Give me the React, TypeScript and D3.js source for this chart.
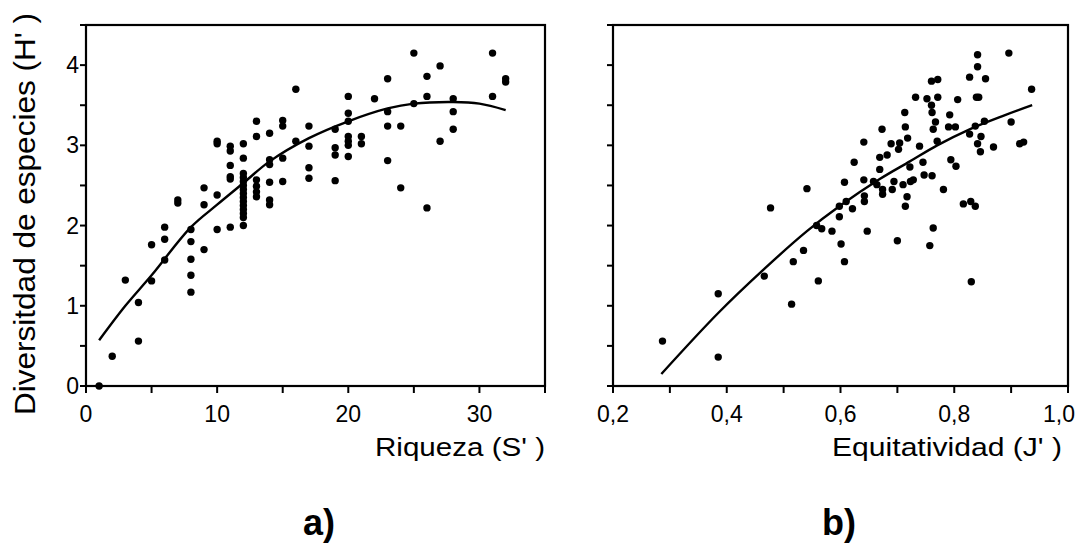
import React from "react";
import * as d3 from "d3";

// ---- Panel a: Riqueza (S') vs Diversidad (H') ----
const aRichness = [1,2,3,4,4,5,5,6,6,6,7,7,8,8,8,8,8,9,9,9,10,10,10,10,11,11,11,11,11,11,12,12,12,12,12,12,12,12,12,12,12,12,12,12,12,13,13,13,13,13,13,14,14,14,14,14,14,15,15,15,15,16,16,17,17,17,17,19,19,19,19,20,20,20,20,20,20,20,21,21,22,23,23,23,23,24,24,25,25,26,26,26,27,27,28,28,28,31,31,32,32];
const aDiversity = [0,0.37,1.32,1.04,0.56,1.76,1.31,1.98,1.83,1.57,2.28,2.32,1.95,1.8,1.58,1.38,1.17,2.47,2.26,1.7,3.05,3.02,2.38,1.95,2.99,2.93,2.75,2.61,2.58,1.98,3.02,2.84,2.65,2.6,2.55,2.5,2.45,2.4,2.35,2.3,2.25,2.2,2.15,2.1,2.0,3.3,3.11,2.57,2.49,2.42,2.36,3.15,2.82,2.76,2.54,2.32,2.26,3.31,3.24,2.84,2.55,3.7,3.05,3.24,2.99,2.72,2.59,3.2,2.97,2.88,2.56,3.61,3.4,3.3,3.11,3.05,3.0,2.86,3.11,3.02,3.58,3.83,3.42,3.24,2.81,3.24,2.47,4.15,3.52,3.86,3.61,2.22,3.99,3.05,3.58,3.42,3.2,4.15,3.61,3.83,3.79];
const aCurveX = [1,3,5,8,10,12,14,17,20,23,25,28,30,32];
const aCurveY = [0.57,1.0,1.38,1.98,2.26,2.53,2.8,3.09,3.3,3.46,3.52,3.54,3.52,3.44];

// ---- Panel b: Equitatividad (J') vs Diversidad (H') ----
const bEvenness = [0.287,0.385,0.385,0.466,0.477,0.514,0.517,0.535,0.541,0.561,0.558,0.567,0.585,0.598,0.598,0.601,0.607,0.607,0.61,0.621,0.624,0.641,0.641,0.642,0.642,0.647,0.658,0.664,0.669,0.669,0.673,0.674,0.674,0.682,0.689,0.691,0.694,0.7,0.702,0.704,0.71,0.713,0.714,0.714,0.717,0.718,0.722,0.723,0.728,0.732,0.739,0.745,0.747,0.752,0.757,0.76,0.761,0.761,0.76,0.763,0.763,0.767,0.771,0.771,0.77,0.781,0.792,0.794,0.79,0.802,0.803,0.806,0.816,0.827,0.827,0.829,0.83,0.837,0.837,0.841,0.841,0.839,0.843,0.841,0.847,0.846,0.853,0.855,0.869,0.896,0.9,0.915,0.922,0.936];
const bDiversity = [0.56,1.15,0.36,1.37,2.22,1.02,1.55,1.69,2.46,1.31,2.0,1.96,1.93,2.24,2.11,1.77,1.55,2.54,2.3,2.21,2.79,3.04,2.57,2.37,2.3,1.93,2.55,2.51,2.85,2.7,3.2,2.45,2.39,2.88,3.02,2.45,2.55,1.81,2.95,3.03,2.51,3.41,2.24,3.23,2.36,3.09,2.73,2.55,2.57,3.6,2.99,2.79,2.63,3.58,1.75,3.5,2.62,3.41,3.8,1.97,3.2,3.29,3.82,3.6,3.05,2.45,3.38,2.82,3.23,3.23,2.74,3.57,2.27,3.85,3.14,2.3,1.3,3.24,2.24,4.13,3.98,3.6,3.6,3.02,3.11,2.92,3.3,3.83,2.98,4.15,3.29,3.02,3.04,3.7];
const bCurveX = [0.285,0.385,0.466,0.541,0.598,0.669,0.722,0.77,0.827,0.887,0.937];
const bCurveY = [0.15,0.91,1.46,1.93,2.24,2.58,2.8,3.0,3.2,3.37,3.5];

// ---- Tick labels ----
const aXTicks = [0, 10, 20, 30];
const aXMinor = [0, 5, 10, 15, 20, 25, 30, 35];
const bXTicks = [0.2, 0.4, 0.6, 0.8, 1.0];
const bXMinor = [0.2, 0.3, 0.4, 0.5, 0.6, 0.7, 0.8, 0.9, 1.0];
const yTicks = [0, 1, 2, 3, 4];
const yMinor = [0, 0.5, 1, 1.5, 2, 2.5, 3, 3.5, 4, 4.5];

const FONT = "'Liberation Sans', Arial, Helvetica, sans-serif";

const yScale = d3.scaleLinear().domain([0, 4.5]).range([386, 25]);

function Panel({
  xs, ys, cx, cy, xScale, majors, minors, fmt, showYLabels, lastEnd,
}: any) {
  const [x0, x1] = xScale.range();
  const [y0, y1] = yScale.range();
  const line = d3
    .line<number>()
    .x((_, i) => xScale(cx[i]))
    .y((_, i) => yScale(cy[i]))
    .curve(d3.curveCatmullRom.alpha(0.5));
  return (
    <g>
      <rect x={x0} y={y1} width={x1 - x0} height={y0 - y1} fill="none" stroke="#000" strokeWidth={2.2} />
      {minors.map((t: number) => (
        <line key={"xm" + t} x1={xScale(t)} x2={xScale(t)} y1={y0} y2={y0 + 7} stroke="#000" strokeWidth={2} />
      ))}
      {yMinor.map((t) => (
        <line key={"ym" + t} x1={x0 - 6} x2={x0} y1={yScale(t)} y2={yScale(t)} stroke="#000" strokeWidth={2} />
      ))}
      {majors.map((t: number, i: number) => {
        const isLast = lastEnd && i === majors.length - 1;
        return (
          <text
            key={"xl" + t}
            x={isLast ? 1075 : xScale(t)}
            y={422}
            textAnchor={isLast ? "end" : "middle"}
            fontFamily={FONT}
            fontSize={23}
            fill="#000"
          >
            {fmt(t)}
          </text>
        );
      })}
      {showYLabels &&
        yTicks.map((t) => (
          <text key={"yl" + t} x={x0 - 7} y={yScale(t) + 8} textAnchor="end" fontFamily={FONT} fontSize={23} fill="#000">
            {t}
          </text>
        ))}
      <path d={line(cx) || ""} fill="none" stroke="#000" strokeWidth={2.4} />
      {xs.map((v: number, i: number) => (
        <circle key={"p" + i} cx={xScale(v)} cy={yScale(ys[i])} r={3.7} fill="#000" />
      ))}
    </g>
  );
}

export default function App() {
  const xA = d3.scaleLinear().domain([0, 35]).range([86, 545]);
  const xB = d3.scaleLinear().domain([0.2, 1.0]).range([613, 1068]);
  const fmtB = (v: number) => d3.format(".1f")(v).replace(".", ",");
  return (
    <svg
      width={1080}
      height={544}
      viewBox="0 0 1080 544"
      style={{ position: "absolute", left: 0, top: 0, background: "#fff" }}
    >
      <rect x={0} y={0} width={1080} height={544} fill="#fff" />
      <Panel xs={aRichness} ys={aDiversity} cx={aCurveX} cy={aCurveY} xScale={xA}
        majors={aXTicks} minors={aXMinor} fmt={(v: number) => String(v)} showYLabels={true} lastEnd={false} />
      <Panel xs={bEvenness} ys={bDiversity} cx={bCurveX} cy={bCurveY} xScale={xB}
        majors={bXTicks} minors={bXMinor} fmt={fmtB} showYLabels={false} lastEnd={true} />
      <text transform="translate(35,214) rotate(-90)" textAnchor="middle" fontFamily={FONT} fontSize={30}
        textLength={402} lengthAdjust="spacingAndGlyphs" fill="#000">
        Diversitdad de especies (H' )
      </text>
      <text x={545} y={456} textAnchor="end" fontFamily={FONT} fontSize={25}
        textLength={170} lengthAdjust="spacingAndGlyphs" fill="#000">
        Riqueza (S' )
      </text>
      <text x={1062} y={456} textAnchor="end" fontFamily={FONT} fontSize={25}
        textLength={230} lengthAdjust="spacingAndGlyphs" fill="#000">
        Equitatividad (J' )
      </text>
      <text x={319} y={535} textAnchor="middle" fontFamily={FONT} fontSize={36} fontWeight="bold" fill="#000">
        a)
      </text>
      <text x={839} y={535} textAnchor="middle" fontFamily={FONT} fontSize={36} fontWeight="bold" fill="#000">
        b)
      </text>
    </svg>
  );
}
